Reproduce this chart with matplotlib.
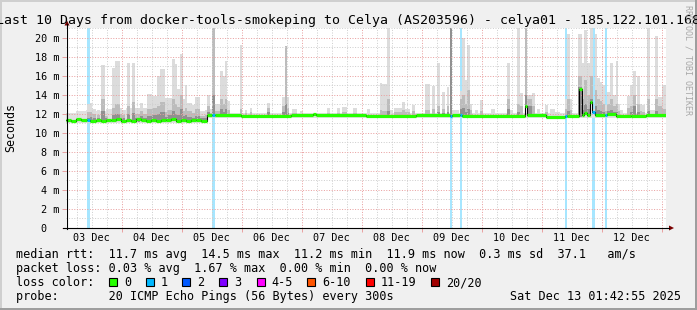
import numpy as np
import matplotlib
matplotlib.use("Agg")
import matplotlib.pyplot as plt
from matplotlib.patches import Rectangle, Polygon
from datetime import datetime, timedelta

# ---------------- data ----------------
title_text = "Last 10 Days from docker-tools-smokeping to Celya (AS203596) - celya01 - 185.122.101.168"
end_time = datetime(2025, 12, 13, 1, 42, 55)
span_hours = 240.0

y_ticks_ms = [0, 2, 4, 6, 8, 10, 12, 14, 16, 18, 20]
y_tick_labels = ["0  ", "2 m", "4 m", "6 m", "8 m", "10 m", "12 m", "14 m", "16 m", "18 m", "20 m"]
y_max_ms = 21.0

# median rtt (step series, hours after graph start)
median_t_h = [0, 2, 4, 6, 8.4, 9.6, 12, 14, 16, 18, 20, 22, 24, 26, 28, 30, 32, 34,
              36, 38, 40, 42, 44, 46, 48, 50, 52, 54, 56.4, 58.4, 59.6, 70, 90, 98.8,
              100, 120, 140, 153.6, 154.4, 157.6, 158.4, 183.6, 184.4, 192, 199.6,
              200.4, 205.2, 206.4, 207.2, 208.4, 209.6, 210.4, 211.6, 215.6, 216.4,
              220, 226, 232]
median_ms = [11.35, 11.25, 11.40, 11.30, 11.35, 11.25, 11.35, 11.20, 11.35, 11.30,
             11.40, 11.25, 11.35, 11.25, 11.40, 11.30, 11.20, 11.35, 11.25, 11.35,
             11.30, 11.40, 11.25, 11.35, 11.20, 11.30, 11.35, 11.25, 11.85, 11.85,
             11.85, 11.80, 11.85, 11.92, 11.82, 11.80, 11.85, 11.80, 11.85, 11.85,
             11.80, 12.80, 11.85, 11.70, 11.80, 11.75, 14.60, 11.90, 12.10, 11.85,
             13.20, 12.20, 11.85, 11.85, 11.95, 11.80, 11.75, 11.85]

# packet-loss events
loss_start_h = [8.4, 58.4, 153.6, 157.6, 199.6, 210.4, 215.6]
loss_dur_h = [1.2, 1.2, 0.8, 0.8, 0.8, 1.2, 0.8]
loss_pings = [1, 1, 1, 1, 1, 1, 1]

# low smoke haze around the median
haze_t_h = [0, 4, 8, 12, 16, 20, 24, 28, 32, 36, 40, 44, 48, 52, 56.4]
haze_lo_ms = [11.0, 11.0, 11.0, 11.0, 11.0, 11.0, 11.0, 11.0, 11.0, 11.0, 11.0, 11.0, 11.0, 11.0, 11.6]
haze_hi_ms = [12.1, 12.3, 12.4, 12.3, 12.5, 12.4, 12.6, 12.3, 12.4, 12.5, 12.6, 12.4, 12.5, 12.3, 12.1]

# smoke columns: start hour, duration, outer (max), middle and inner band tops (ms)
smoke_start_h = [8.4, 9.6, 10.4, 12.4, 14.0, 15.6, 18.4, 19.6, 21.6, 22.4, 24.4, 26.4, 27.6,
                 29.6, 30.8, 32.4, 34.4, 36.4, 37.6, 39.6, 40.4, 42.4, 43.6, 44.4, 45.6,
                 46.8, 47.6, 48.4, 50.4, 51.6, 53.6, 55.6, 56.4, 57.6, 58.4, 59.6, 61.6,
                 62.8, 63.6, 64.4, 69.6, 71.6, 73.6, 80.4, 86.4, 87.6, 88.4, 90.4, 93.6,
                 104.4, 108.4, 110.4, 114.8, 120.4, 125.6, 126.4, 128.4, 129.6, 131.2,
                 134.4, 135.6, 138.4, 143.6, 146.4, 148.4, 150.4, 152.4, 153.6, 154.4,
                 157.6, 158.4, 159.6, 160.4, 161.6, 163.6, 165.6, 170.0, 176.4, 177.6,
                 180.4, 181.6, 183.6, 184.4, 186.4, 188.4, 191.6, 193.6, 195.6, 199.6,
                 200.4, 201.6, 204.8, 206.4, 207.2, 208.4, 209.6, 210.8, 211.6, 212.4,
                 213.6, 214.4, 215.6, 216.4, 217.6, 218.8, 220.0, 220.8, 221.6, 224.4,
                 225.6, 226.8, 228.4, 229.6, 230.4, 232.4, 233.6, 235.6, 236.8, 238.4]
smoke_dur_h = [1.2, 0.8, 1.6, 1.2, 1.6, 1.2, 1.2, 2.0, 0.8, 1.2, 1.2, 1.2, 2.0,
               1.2, 1.6, 2.0, 2.0, 1.2, 2.0, 0.8, 2.0, 1.2, 0.8, 1.2, 1.2,
               0.8, 0.8, 2.0, 1.2, 2.0, 2.0, 0.8, 1.2, 0.8, 1.2, 2.0, 1.2,
               0.8, 0.8, 1.2, 0.8, 0.8, 0.8, 1.2, 1.2, 0.8, 0.8, 2.0, 1.2,
               1.2, 1.2, 2.0, 1.6, 1.2, 0.8, 2.0, 1.2, 1.2, 3.2,
               1.2, 2.0, 1.2, 2.0, 1.2, 1.2, 1.2, 0.8, 0.8, 2.8,
               0.8, 1.2, 0.8, 1.2, 0.8, 1.2, 1.2, 1.6, 1.2, 1.2,
               1.2, 1.2, 0.8, 2.0, 1.2, 1.2, 1.2, 2.0, 2.0, 0.8,
               1.2, 0.8, 1.6, 0.8, 1.2, 1.2, 1.2, 0.8, 0.8, 1.2,
               0.8, 1.2, 0.8, 1.2, 1.2, 1.2, 0.8, 0.8, 1.2, 1.2,
               1.2, 1.2, 1.2, 0.8, 1.2, 1.2, 2.0, 1.2, 1.6, 1.6]
smoke_top_ms = [13.0, 13.1, 12.5, 12.4, 17.1, 12.2, 16.8, 17.5, 12.6, 12.4, 17.3, 17.3, 12.6,
                13.1, 12.6, 14.1, 13.9, 16.0, 16.7, 13.6, 13.7, 17.7, 17.2, 14.6, 18.3,
                13.5, 15.0, 13.1, 12.9, 13.8, 12.2, 12.4, 14.0, 12.5, 21.5, 13.0, 16.5,
                16.0, 17.5, 13.3, 19.2, 12.4, 12.6, 13.1, 13.8, 19.1, 13.8, 12.5, 12.3,
                12.6, 12.6, 12.7, 12.6, 12.5, 15.2, 15.1, 21.5, 12.4, 12.6,
                13.2, 12.5, 12.9, 15.1, 14.9, 17.3, 14.3, 14.8, 21.5, 12.4,
                14.4, 19.9, 15.5, 19.2, 13.0, 12.4, 13.4, 12.5, 17.3, 12.4,
                21.5, 14.2, 21.5, 14.0, 14.2, 12.5, 12.9, 12.5, 12.2, 13.5,
                20.4, 13.5, 20.4, 17.3, 20.8, 17.3, 21.5, 12.5, 20.4, 15.7,
                15.3, 15.0, 12.9, 14.3, 17.3, 14.0, 17.5, 13.0, 12.4, 13.9,
                15.0, 16.5, 16.0, 13.0, 12.9, 21.5, 12.4, 20.2, 13.8, 15.0]
smoke_mid_ms = [12.2, 12.2, 12.0, 11.9, 13.5, 11.8, 12.6, 13.0, 12.0, 11.9, 12.8, 13.2, 12.0,
                12.3, 12.0, 12.5, 12.6, 12.8, 13.2, 12.2, 12.4, 13.5, 13.0, 12.7, 14.0,
                12.3, 12.6, 12.3, 12.1, 12.5, 11.8, 11.9, 12.8, 12.1, 21.5, 12.3, 13.5,
                13.0, 13.5, 12.4, 12.5, 12.1, 12.2, 12.6, 12.8, 19.1, 12.6, 12.1, 0,
                12.1, 12.1, 12.2, 12.1, 0, 12.4, 12.3, 13.5, 0, 12.2,
                12.4, 12.2, 12.3, 12.4, 12.5, 12.8, 12.5, 12.8, 21.5, 0,
                13.5, 14.0, 13.0, 14.5, 12.4, 0, 12.3, 0, 13.5, 0,
                13.0, 12.8, 21.5, 13.5, 12.8, 0, 12.2, 0, 0, 12.5,
                13.5, 12.4, 16.0, 13.5, 15.5, 14.0, 16.0, 0, 14.5, 13.5,
                13.3, 13.0, 12.3, 13.0, 13.5, 12.8, 13.0, 12.3, 0, 12.6,
                12.8, 14.0, 13.0, 12.3, 12.2, 13.5, 0, 13.5, 12.8, 12.5]
smoke_core_ms = [11.6, 11.7, 11.6, 11.6, 12.3, 11.5, 11.9, 12.0, 11.6, 11.6, 12.0, 12.1, 11.6,
                 11.8, 11.6, 11.8, 11.9, 12.0, 12.2, 11.7, 11.9, 12.3, 12.0, 11.9, 12.5,
                 11.8, 11.9, 11.7, 11.6, 11.8, 11.5, 11.6, 12.2, 11.9, 14.0, 12.0, 12.5,
                 12.2, 12.5, 12.0, 12.0, 0, 0, 12.2, 12.2, 13.0, 12.1, 0, 0,
                 0, 0, 0, 0, 0, 0, 0, 12.3, 0, 0,
                 0, 0, 0, 0, 0, 12.2, 12.1, 12.2, 21.5, 0,
                 12.5, 12.6, 12.2, 12.5, 0, 0, 0, 0, 12.5, 0,
                 12.2, 0, 14.0, 12.8, 0, 0, 0, 0, 0, 0,
                 12.3, 0, 14.8, 12.4, 13.0, 12.5, 13.5, 0, 12.8, 12.4,
                 12.3, 12.2, 0, 12.3, 12.4, 12.2, 12.2, 0, 0, 0,
                 12.2, 12.8, 12.2, 0, 0, 12.3, 0, 12.3, 0, 0]

# legend content
rtt_values = ["11.7", "14.5", "11.2", "11.9"]
stat_names = ["avg", "max", "min", "now"]
rtt_sd = "0.3"
rtt_amps = "37.1"
loss_values = ["0.03", "1.67", "0.00", "0.00"]
loss_labels = ["0", "1", "2", "3", "4-5", "6-10", "11-19", "20/20"]
loss_colors = ["#26ff00", "#00b8ff", "#0059ff", "#7e00ff", "#ff00ff", "#ff5500", "#ff0000", "#a00000"]
probe_text = "20 ICMP Echo Pings (56 Bytes) every 300s"
stamp_text = "Sat Dec 13 01:42:55 2025"
watermark = "RRDTOOL / TOBI OETIKER"

# ---------------- drawing ----------------
W, H, DPI = 697, 310, 100
MONO = "DejaVu Sans Mono"
BG = "#f0f0f0"

fig = plt.figure(figsize=(W / DPI, H / DPI), dpi=DPI, facecolor=BG)

AX_L, AX_R, AX_T, AX_B = 66, 666, 28, 228
ax = fig.add_axes([AX_L / W, (H - AX_B) / H, (AX_R - AX_L) / W, (AX_B - AX_T) / H])
ax.set_facecolor("white")
ax.set_xlim(0, span_hours)
ax.set_ylim(0, y_max_ms)
for s in ax.spines.values():
    s.set_visible(False)

start_time = end_time - timedelta(hours=span_hours)


def hrs(dt):
    return (dt - start_time).total_seconds() / 3600.0


def loss_color_idx(p):
    if p <= 0:
        return 0
    if p <= 3:
        return p
    if p <= 5:
        return 4
    if p <= 10:
        return 5
    if p <= 19:
        return 6
    return 7


def lighten(c, a=0.35):
    rgb = np.array(matplotlib.colors.to_rgb(c))
    return tuple(rgb * a + (1 - a))


mt = np.array(median_t_h + [span_hours])
mv = np.array(median_ms)


def med_at(t):
    i = np.searchsorted(mt, t, side="right") - 1
    return mv[min(max(i, 0), len(mv) - 1)]


# loss background bars
for s, d, p in zip(loss_start_h, loss_dur_h, loss_pings):
    ax.bar(s, y_max_ms + 1, width=d, bottom=0, align="edge",
           color=lighten(loss_colors[loss_color_idx(p)]), lw=0, zorder=1.0)

# haze
ht = np.array(haze_t_h + [span_hours])
ax.bar(ht[:-1], np.array(haze_hi_ms) - np.array(haze_lo_ms), width=np.diff(ht),
       bottom=haze_lo_ms, align="edge", color="#e0e0e0", lw=0, zorder=1.1)

# smoke
LIGHT, MID, DARK = "#dcdcdc", "#bcbcbc", "#909090"
for s, d, top, mid, core in zip(smoke_start_h, smoke_dur_h, smoke_top_ms, smoke_mid_ms, smoke_core_ms):
    base = med_at(s) - 0.1
    ax.bar(s, top - base, width=d, bottom=base, align="edge", color=LIGHT, lw=0, zorder=1.2)
    if mid > base:
        ax.bar(s, mid - base, width=d, bottom=base, align="edge", color=MID, lw=0, zorder=1.3)
    if core > base:
        ax.bar(s, core - base, width=d, bottom=base, align="edge", color=DARK, lw=0, zorder=1.4)

# grid (dotted)
day0 = datetime(start_time.year, start_time.month, start_time.day)
GRID_RED = "#e9a0a0"
GRID_GRAY = "#cfcfcf"
dots = (0, (1, 1.6))
for k in range(0, 12 * 4):
    t = hrs(day0 + timedelta(hours=6 * k))
    if 0 < t < span_hours:
        ax.axvline(t, color=GRID_RED if k % 4 == 0 else GRID_GRAY, lw=0.72, ls=dots, zorder=2.5)
for v in range(1, 22):
    ax.axhline(v, color=GRID_RED if v % 2 == 0 else GRID_GRAY, lw=0.72, ls=dots, zorder=2.5)

# median line
ax.step(mt, np.append(mv, mv[-1]), where="post", color="black", lw=0.8, zorder=3)
seg_cols = []
for a, b in zip(mt[:-1], mt[1:]):
    m = (a + b) / 2
    c = loss_colors[0]
    for s, d, p in zip(loss_start_h, loss_dur_h, loss_pings):
        if s <= m < s + d:
            c = loss_colors[loss_color_idx(p)]
    seg_cols.append(c)
ax.hlines(mv, mt[:-1], mt[1:], colors=seg_cols, lw=2.3, zorder=4)

# ticks
midnights = [hrs(day0 + timedelta(days=k)) for k in range(1, 12)]
midnights = [t for t in midnights if 0 < t < span_hours]
noons = [day0 + timedelta(days=k, hours=12) for k in range(0, 11)]
noon_pos = [hrs(d) for d in noons if 0 < hrs(d) < span_hours]
noon_lab = [d.strftime("%d %b") for d in noons if 0 < hrs(d) < span_hours]
ax.set_xticks(midnights)
ax.set_xticklabels([])
ax.set_xticks(noon_pos, minor=True)
ax.set_xticklabels(noon_lab, minor=True, fontfamily=MONO, fontsize=7.3)
ax.tick_params(axis="x", which="major", length=3.2, width=0.7, color=GRID_RED)
ax.tick_params(axis="x", which="minor", length=0, pad=3.6)
ax.set_yticks(y_ticks_ms)
ax.set_yticklabels(y_tick_labels, fontfamily=MONO, fontsize=7.3)
ax.tick_params(axis="y", which="major", length=2.6, width=0.7, color=GRID_RED, pad=2.2)

# overlay for frame, axes arrows, texts
ov = fig.add_axes([0, 0, 1, 1])
ov.set_xlim(0, W)
ov.set_ylim(H, 0)
ov.axis("off")
ov.patch.set_alpha(0)

ov.add_patch(Rectangle((0, 0), W, 2, color="#cfcfcf", lw=0))
ov.add_patch(Rectangle((0, 0), 2, H, color="#cfcfcf", lw=0))
ov.add_patch(Rectangle((0, H - 2.5), W, 2.5, color="#9e9e9e", lw=0))
ov.add_patch(Rectangle((W - 2, 0), 2, H, color="#9e9e9e", lw=0))

ov.plot([67, 67], [228.5, 24], color="black", lw=0.8)
ov.plot([63, 669], [228, 228], color="black", lw=0.8)
ov.add_patch(Polygon([(64.5, 25.5), (69.5, 25.5), (67, 20.5)], closed=True, color="#7a0000", lw=0))
ov.add_patch(Polygon([(669, 225.5), (669, 230.5), (674, 228)], closed=True, color="#7a0000", lw=0))

ov.text(W / 2, 24, title_text, fontfamily=MONO, fontsize=9.5, ha="center", va="baseline")
ov.text(11, 128, "Seconds", fontfamily=MONO, fontsize=8.4, rotation=90, ha="center", va="center")
ov.text(688, 5, watermark, fontfamily=MONO, fontsize=6.0, rotation=270, ha="center", va="top", color="#a8a8a8")

LX = 16
row1 = "median rtt:  " + "  ".join(f"{v} ms {n}" for v, n in zip(rtt_values, stat_names)) + \
       f"  {rtt_sd} ms sd  {rtt_amps}   am/s"
row2 = "packet loss: " + "  ".join(f"{v} % {n}" for v, n in zip(loss_values, stat_names))
ov.text(LX, 258, row1, fontfamily=MONO, fontsize=8.5, va="baseline")
ov.text(LX, 272, row2, fontfamily=MONO, fontsize=8.5, va="baseline")
ov.text(LX, 286, "loss color:", fontfamily=MONO, fontsize=8.5, va="baseline")
sq_x = [109, 145.7, 182.3, 219, 256.7, 307, 365.7, 431]
for x, lab, col in zip(sq_x, loss_labels, loss_colors):
    ov.add_patch(Rectangle((x, 278), 8, 8, facecolor=col, edgecolor="black", lw=0.8))
    ov.text(x + 15, 286, lab, fontfamily=MONO, fontsize=8.5, va="baseline")
ov.text(LX, 300, "probe:       " + probe_text, fontfamily=MONO, fontsize=8.5, va="baseline")
ov.text(681, 300, stamp_text, fontfamily=MONO, fontsize=8.5, va="baseline", ha="right")

fig.savefig("out.png", dpi=DPI, facecolor=BG)
